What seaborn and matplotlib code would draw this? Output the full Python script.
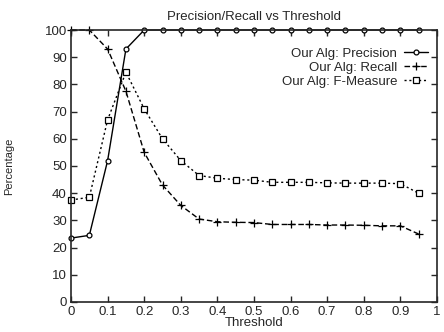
import pandas as pd
import seaborn as sns
import matplotlib.pyplot as plt

threshold = [0, 0.05, 0.1, 0.15, 0.2, 0.25, 0.3, 0.35, 0.4, 0.45,
             0.5, 0.55, 0.6, 0.65, 0.7, 0.75, 0.8, 0.85, 0.9, 0.95]
precision = [23.5, 24.5, 52, 93, 100, 100, 100, 100, 100, 100,
             100, 100, 100, 100, 100, 100, 100, 100, 100, 100]
recall = [100, 100, 93, 77.5, 55, 43, 35.5, 30.5, 29.5, 29.3,
          29.2, 28.5, 28.5, 28.5, 28.3, 28.3, 28.2, 28, 28, 25]
fmeasure = [37.5, 38.5, 67, 84.5, 71, 60, 52, 46.5, 45.5, 45,
            44.8, 44, 44, 44, 43.8, 43.7, 43.7, 43.7, 43.5, 40]

sns.set_style('ticks')
plt.rcParams['font.family'] = ['Liberation Sans', 'DejaVu Sans']

fig = plt.figure(figsize=(4.44, 3.32), dpi=100)
ax = fig.add_axes([0.16, 0.0904, 0.824, 0.8192])

series = [
    ('Our Alg: Precision', precision, '-', 'o', 3.5),
    ('Our Alg: Recall', recall, (0, (4, 2)), '+', 5.5),
    ('Our Alg: F-Measure', fmeasure, (0, (1.5, 2)), 's', 4.5),
]
for name, vals, ls, mk, ms in series:
    df = pd.DataFrame({'Threshold': threshold, 'Percentage': vals})
    sns.lineplot(data=df, x='Threshold', y='Percentage', ax=ax, label=name,
                 color='black', linestyle=ls, marker=mk, markersize=ms,
                 markerfacecolor='white', markeredgecolor='black',
                 markeredgewidth=0.9, linewidth=1.0, clip_on=False)

ax.set_xlim(0, 1)
ax.set_ylim(0, 100)
ax.set_xticks([0, 0.1, 0.2, 0.3, 0.4, 0.5, 0.6, 0.7, 0.8, 0.9, 1])
ax.set_xticklabels(['0', '0.1', '0.2', '0.3', '0.4', '0.5', '0.6', '0.7', '0.8', '0.9', '1'])
ax.set_yticks(range(0, 101, 10))
ax.tick_params(direction='in', top=True, right=True, labelsize=9.5, length=4, width=1, pad=3)
for s in ax.spines.values():
    s.set_linewidth(1.2)
    s.set_visible(True)
ax.set_title('Precision/Recall vs Threshold', fontsize=9.5, pad=7)
ax.set_xlabel('Threshold', fontsize=9.5, labelpad=-1)
ax.set_ylabel('Percentage', fontsize=8, labelpad=22)
ax.legend(loc='upper right', bbox_to_anchor=(1.0, 0.97), frameon=False, markerfirst=False,
          fontsize=9.5, handlelength=1.8, handletextpad=0.5, labelspacing=0.15, borderaxespad=0.3)

fig.savefig('out.png', dpi=100)
